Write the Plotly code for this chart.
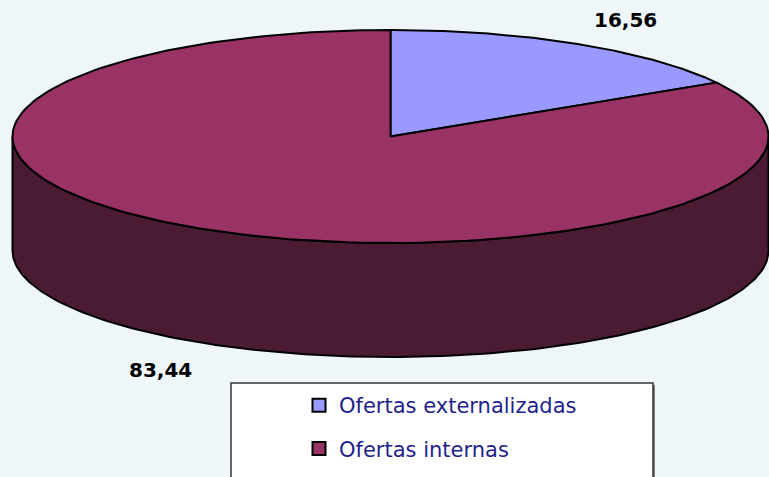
import numpy as np
import plotly.graph_objects as go

# ---- data ----
categories = ["Ofertas externalizadas", "Ofertas internas"]
values = [16.56, 83.44]
value_labels = ["16,56", "83,44"]

# ---- style ----
top_colors = ["#9999FF", "#993366"]
side_colors = ["#3A3A80", "#4B1B34"]
bg = "#EEF6F9"
W, H = 769, 477

# pie geometry (pixel space)
cx, cy = 390.5, 136.5
rx, ry = 378.0, 106.5
depth = 114.0


def arc(t0, t1, dy=0.0, n=200):
    t = np.radians(np.linspace(t0, t1, n))
    return cx + rx * np.sin(t), cy - ry * np.cos(t) + dy


total = sum(values)
bounds = np.concatenate([[0], np.cumsum(values) / total * 360.0])

fig = go.Figure()

# side walls (front visible half: 90..270 deg clockwise from top)
for i, cat in enumerate(categories):
    a0, a1 = max(bounds[i], 90.0), min(bounds[i + 1], 270.0)
    if a1 <= a0:
        continue
    xt, yt = arc(a0, a1)
    xb, yb = arc(a1, a0, dy=depth)
    xs = np.concatenate([xt, xb, [xt[0]]])
    ys = np.concatenate([yt, yb, [yt[0]]])
    fig.add_trace(go.Scatter(x=xs, y=ys, mode="lines", fill="toself",
                             fillcolor=side_colors[i],
                             line=dict(color="black", width=2),
                             hoverinfo="skip", showlegend=False))

# top faces
for i, cat in enumerate(categories):
    xa, ya = arc(bounds[i], bounds[i + 1])
    xs = np.concatenate([[cx], xa, [cx]])
    ys = np.concatenate([[cy], ya, [cy]])
    fig.add_trace(go.Scatter(x=xs, y=ys, mode="lines", fill="toself",
                             fillcolor=top_colors[i],
                             line=dict(color="black", width=2),
                             name=cat, hoverinfo="name", showlegend=False))

# legend entries
for i, cat in enumerate(categories):
    fig.add_trace(go.Scatter(x=[None], y=[None], mode="markers", name=cat,
                             legendgroup=cat,
                             marker=dict(symbol="square", size=13, color=top_colors[i],
                                         line=dict(color="black", width=2))))

# legend box (decoration)
fig.add_shape(type="rect", x0=233, x1=655, y0=385, y1=490,
              fillcolor="#808080", line=dict(width=0), layer="below")
fig.add_shape(type="rect", x0=231, x1=653, y0=383, y1=490,
              fillcolor="white", line=dict(color="#333333", width=1.5), layer="below")

# value labels
fig.add_annotation(x=625, y=20, text="<b>" + value_labels[0] + "</b>", showarrow=False,
                   font=dict(family="DejaVu Sans", size=20, color="black"), xref="x", yref="y")
fig.add_annotation(x=160, y=370, text="<b>" + value_labels[1] + "</b>", showarrow=False,
                   font=dict(family="DejaVu Sans", size=20, color="black"), xref="x", yref="y")

fig.update_layout(
    width=W, height=H,
    margin=dict(l=0, r=0, t=0, b=0),
    paper_bgcolor=bg, plot_bgcolor=bg,
    xaxis=dict(range=[0, W], visible=False, fixedrange=True),
    yaxis=dict(range=[H, 0], visible=False, fixedrange=True),
    showlegend=True,
    legend=dict(x=299 / W, y=1 - 385 / H, xanchor="left", yanchor="top",
                bgcolor="rgba(0,0,0,0)", borderwidth=0,
                font=dict(family="DejaVu Sans", size=21, color="#1F1F8C"),
                tracegroupgap=13, traceorder="grouped"),
)

fig.write_html("out.html", config={"displayModeBar": False},
               post_script="document.body.style.margin='0';document.body.style.overflow='hidden';")
